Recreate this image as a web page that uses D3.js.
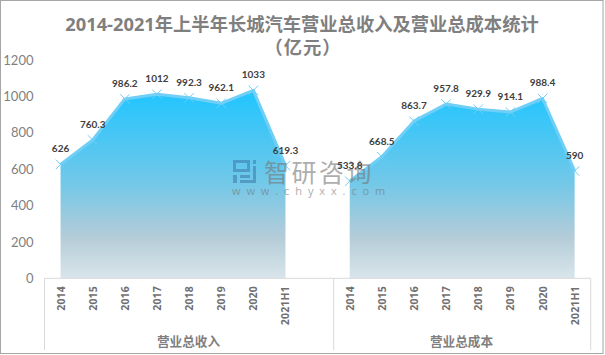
<!DOCTYPE html>
<html>
<head>
  <meta charset="utf-8">
  <title>长城汽车营业总收入及营业总成本</title>
  <script src="https://d3js.org/d3.v7.min.js"></script>
  <style>
    html, body { margin: 0; padding: 0; background: #fff; }
    svg { display: block; }
  </style>
</head>
<body>
  <script>
    // values
    const years = ["2014", "2015", "2016", "2017", "2018", "2019", "2020", "2021H1"];
    const revenue = [626, 760.3, 986.2, 1012, 992.3, 962.1, 1033, 619.3];
    const cost = [533.8, 668.5, 863.7, 957.8, 929.9, 914.1, 988.4, 590];
    const groups = ["营业总收入", "营业总成本"];
    const yTicks = [0, 200, 400, 600, 800, 1000, 1200];

    const width = 605, height = 355;
    const plotLeft = 44.5, plotRight = 590.7, plotTop = 60, plotBottom = 278.3;

    let svg = d3.select("body").append("svg")
      .attr("width", width)
      .attr("height", height);

    svg.append("rect")
      .attr("x", 0.5).attr("y", 0.5)
      .attr("width", 602.5).attr("height", 353)
      .attr("fill", "#fff")
      .attr("stroke", "#a6a6a6")
      .attr("stroke-width", 1);

    // one band per category, with one empty band between the two groups
    let bandKeys = years.map(y => "a" + y).concat(["gap"], years.map(y => "b" + y));
    let x = d3.scaleBand().domain(bandKeys).range([plotLeft, plotRight]);
    let y = d3.scaleLinear().domain([0, 1200]).range([plotBottom, plotTop]);

    let grad = svg.append("defs").append("linearGradient")
      .attr("id", "fade")
      .attr("gradientUnits", "userSpaceOnUse")
      .attr("x1", 0).attr("x2", 0)
      .attr("y1", y(1033)).attr("y2", plotBottom);
    grad.append("stop").attr("offset", "0%").attr("stop-color", "#1fc5ff");
    grad.append("stop").attr("offset", "50%").attr("stop-color", "#74c8e8");
    grad.append("stop").attr("offset", "78%").attr("stop-color", "#b4ccd8");
    grad.append("stop").attr("offset", "100%").attr("stop-color", "#d9e5eb");

    let cjkFont = "'Noto Sans CJK SC', sans-serif";

    // title
    let title = svg.append("g")
      .attr("font-family", "'Open Sans', " + cjkFont)
      .attr("font-size", 18.3)
      .attr("font-weight", 700)
      .attr("fill", "#7f7f7f")
      .attr("text-anchor", "middle")
      .style("font-kerning", "none")
      .style("font-feature-settings", "'palt' 0, 'kern' 0");
    title.append("text").attr("x", 302).attr("y", 30.5)
      .text("2014-2021年上半年长城汽车营业总收入及营业总成本统计");
    title.append("text").attr("x", 303).attr("y", 54).attr("letter-spacing", 1)
      .text("（亿元）");

    // y axis
    let yAxis = svg.append("g")
      .attr("transform", "translate(" + plotLeft + ",0)")
      .call(d3.axisLeft(y).tickValues(yTicks).tickFormat(d3.format("d")).tickSize(0).tickPadding(11));
    yAxis.select(".domain").remove();
    yAxis.selectAll("text")
      .attr("font-family", "Lato, sans-serif")
      .attr("font-size", 13)
      .attr("fill", "#7f7f7f");

    let area = d3.area()
      .x(d => d.x)
      .y0(plotBottom)
      .y1(d => y(d.v));
    let line = d3.line().x(d => d.x).y(d => y(d.v));

    [["a", revenue], ["b", cost]].forEach(function([prefix, values]) {
      let pts = years.map((yr, i) => ({
        x: x(prefix + yr) + x.bandwidth() / 2,
        v: values[i]
      }));

      svg.append("path").datum(pts)
        .attr("d", area)
        .attr("fill", "url(#fade)");

      svg.append("path").datum(pts)
        .attr("d", line)
        .attr("fill", "none")
        .attr("stroke", "#6fcff6")
        .attr("stroke-width", 3)
        .attr("stroke-linejoin", "round");

      // x shaped markers
      svg.append("g").selectAll("path")
        .data(pts)
        .enter()
        .append("path")
        .attr("transform", d => "translate(" + d.x + "," + y(d.v) + ")")
        .attr("d", d3.symbol(d3.symbolX, 60))
        .attr("fill", "none")
        .attr("stroke", "#6fcff6")
        .attr("stroke-width", 1);
    });

    // watermark
    let mark = svg.append("g").attr("opacity", 0.6);
    mark.append("g").attr("fill", "#3f7fb0")
      .selectAll("rect")
      .data([[233, 160, 17, 3], [233, 160, 3, 12], [247, 160, 3, 12], [233, 169, 17, 3],
             [253, 160, 3, 4], [253, 166, 3, 17], [233, 175, 4, 8], [240, 175, 10, 3], [240, 180, 16, 3]])
      .enter().append("rect")
      .attr("x", d => d[0]).attr("y", d => d[1])
      .attr("width", d => d[2]).attr("height", d => d[3]);
    mark.append("text")
      .attr("x", 264).attr("y", 182)
      .attr("font-family", cjkFont)
      .attr("font-size", 25)
      .attr("letter-spacing", 2.5)
      .attr("fill", "#777")
      .text("智研咨询");
    mark.append("text")
      .attr("x", 232).attr("y", 194.5)
      .attr("font-family", "'Open Sans', sans-serif")
      .attr("font-size", 11)
      .attr("letter-spacing", 5.9)
      .attr("fill", "#777")
      .text("www.chyxx.com");

    // data labels go on top of the watermark
    [["a", revenue], ["b", cost]].forEach(function([prefix, values]) {
      svg.append("g").selectAll("text")
        .data(values)
        .enter()
        .append("text")
        .attr("x", (d, i) => x(prefix + years[i]) + x.bandwidth() / 2)
        .attr("y", d => y(d) - 12)
        .attr("text-anchor", "middle")
        .attr("font-family", "Lato, sans-serif")
        .attr("font-size", 10)
        .attr("font-weight", 700)
        .attr("fill", "#404040")
        .text(d => d);
    });

    // category axis frame
    let frameBottom = 350;
    let frame = svg.append("g").attr("stroke", "#d9d9d9").attr("stroke-width", 1);
    frame.append("line")
      .attr("x1", plotLeft).attr("x2", plotRight)
      .attr("y1", plotBottom).attr("y2", plotBottom);
    [plotLeft, x("gap") + x.bandwidth(), plotRight].forEach(function(px) {
      frame.append("line")
        .attr("x1", px).attr("x2", px)
        .attr("y1", plotBottom).attr("y2", frameBottom);
    });

    // rotated year labels
    ["a", "b"].forEach(function(prefix) {
      svg.append("g").selectAll("text")
        .data(years)
        .enter()
        .append("text")
        .attr("transform", d => "translate(" + (x(prefix + d) + x.bandwidth() / 2 + 4) + ",286) rotate(-90)")
        .attr("text-anchor", "end")
        .attr("font-family", "'Open Sans', sans-serif")
        .attr("font-size", 10.5)
        .attr("font-weight", 700)
        .attr("letter-spacing", 0.2)
        .attr("fill", "#707070")
        .text(d => d);
    });

    // group labels
    svg.append("g").selectAll("text")
      .data(groups)
      .enter()
      .append("text")
      .attr("x", (d, i) => i === 0 ? 188.5 : 461.5)
      .attr("y", 346)
      .attr("text-anchor", "middle")
      .attr("font-family", cjkFont)
      .attr("font-size", 12.6)
      .attr("font-weight", 700)
      .attr("fill", "#7f7f7f")
      .text(d => d);
  </script>
</body>
</html>
